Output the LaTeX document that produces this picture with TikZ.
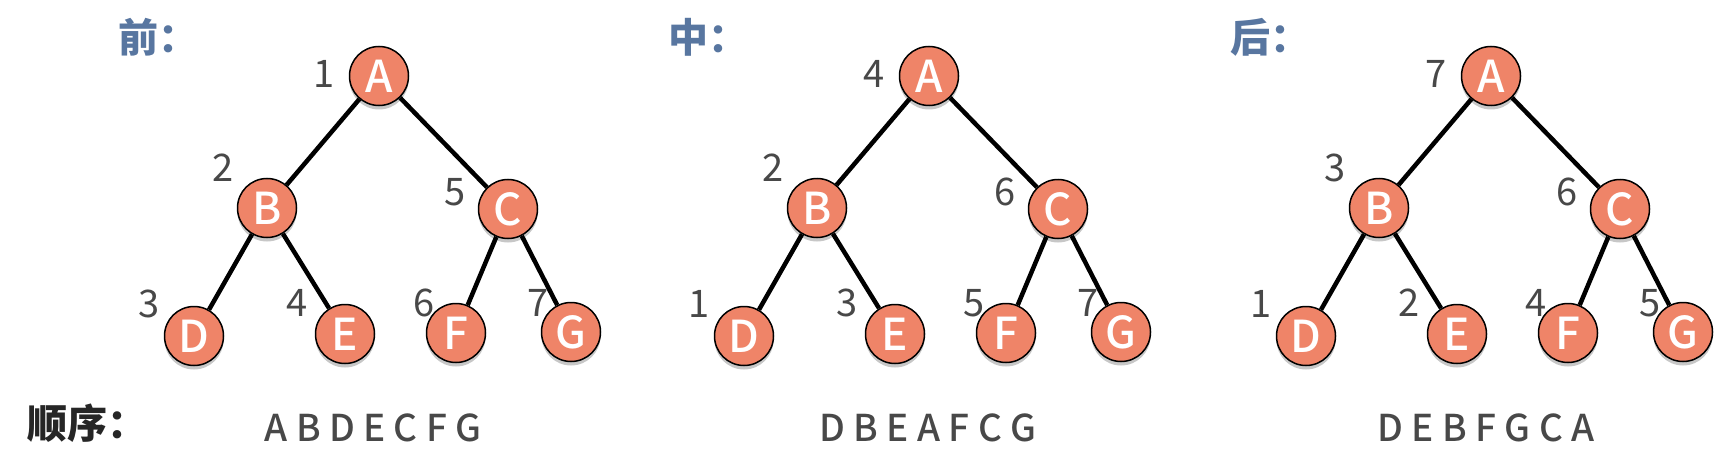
\documentclass[tikz,border=0pt]{standalone}
\usepackage{fontspec}
\setmainfont{Noto Sans CJK SC}
\newfontfamily\seqfont{Noto Sans CJK SC Medium}[WordSpace=1.35]
\newfontfamily\letterfont{Noto Sans CJK SC Medium}
\usetikzlibrary{shadows}
\definecolor{nodesalmon}{RGB}{239,132,104}
\definecolor{titleblue}{RGB}{88,118,160}
\definecolor{numgray}{RGB}{72,72,72}
\definecolor{labeldark}{RGB}{38,38,38}

\begin{document}
\begin{tikzpicture}[x=1pt, y=-1pt,
    treenode/.style={circle, draw=black, line width=1.5pt, fill=nodesalmon, minimum size=59pt, inner sep=0pt, text=white, font=\letterfont\fontsize{44}{44}\selectfont, drop shadow={shadow xshift=0pt, shadow yshift=-4pt, opacity=0.22, fill=black}},
    visitnum/.style={text=numgray, inner sep=0pt, font=\fontsize{38}{38}\selectfont},
    treetitle/.style={text=titleblue, inner sep=0pt, anchor=west, font=\bfseries\fontsize{40}{40}\selectfont},
    seqtext/.style={text=numgray, inner sep=0pt, font=\seqfont\fontsize{37}{37}\selectfont},
    branch/.style={line width=4.5pt, black}
]
\useasboundingbox (0,0) rectangle (1726,476);

% Row label
\node[treetitle, text=labeldark] (order) at (27,423) {顺序：};

% Preorder
\begin{scope}[xshift=379pt]
    \node[treetitle] (t1) at (-261,37) {前：};
    \node[treenode] (a1) at (0,76) {A};
    \node[treenode] (b1) at (-112,208) {B};
    \node[treenode] (c1) at (129,209) {C};
    \node[treenode] (d1) at (-185,336) {D};
    \node[treenode] (e1) at (-34,334) {E};
    \node[treenode] (f1) at (77,333) {F};
    \node[treenode] (g1) at (192,332) {G};
    \node[visitnum] (na1) at (-55,74) {1};
    \node[visitnum] (nb1) at (-156,168) {2};
    \node[visitnum] (nc1) at (76,192) {5};
    \node[visitnum] (nd1) at (-230,304) {3};
    \node[visitnum] (ne1) at (-82,303) {4};
    \node[visitnum] (nf1) at (45,303) {6};
    \node[visitnum] (ng1) at (159,303) {7};
    \node[seqtext] (s1) at (-6,428) {A B D E C F G};
    \draw[branch] (a1) -- (b1);
    \draw[branch] (a1) -- (c1);
    \draw[branch] (b1) -- (d1);
    \draw[branch] (b1) -- (e1);
    \draw[branch] (c1) -- (f1);
    \draw[branch] (c1) -- (g1);
\end{scope}

% Inorder
\begin{scope}[xshift=929pt]
    \node[treetitle] (t2) at (-261,37) {中：};
    \node[treenode] (a2) at (0,76) {A};
    \node[treenode] (b2) at (-112,208) {B};
    \node[treenode] (c2) at (129,209) {C};
    \node[treenode] (d2) at (-185,336) {D};
    \node[treenode] (e2) at (-34,334) {E};
    \node[treenode] (f2) at (77,333) {F};
    \node[treenode] (g2) at (192,332) {G};
    \node[visitnum] (na2) at (-55,74) {4};
    \node[visitnum] (nb2) at (-156,168) {2};
    \node[visitnum] (nc2) at (76,192) {6};
    \node[visitnum] (nd2) at (-230,304) {1};
    \node[visitnum] (ne2) at (-82,303) {3};
    \node[visitnum] (nf2) at (45,303) {5};
    \node[visitnum] (ng2) at (159,303) {7};
    \node[seqtext] (s2) at (-1,428) {D B E A F C G};
    \draw[branch] (a2) -- (b2);
    \draw[branch] (a2) -- (c2);
    \draw[branch] (b2) -- (d2);
    \draw[branch] (b2) -- (e2);
    \draw[branch] (c2) -- (f2);
    \draw[branch] (c2) -- (g2);
\end{scope}

% Postorder
\begin{scope}[xshift=1491pt]
    \node[treetitle] (t3) at (-261,37) {后：};
    \node[treenode] (a3) at (0,76) {A};
    \node[treenode] (b3) at (-112,208) {B};
    \node[treenode] (c3) at (129,209) {C};
    \node[treenode] (d3) at (-185,336) {D};
    \node[treenode] (e3) at (-34,334) {E};
    \node[treenode] (f3) at (77,333) {F};
    \node[treenode] (g3) at (192,332) {G};
    \node[visitnum] (na3) at (-55,74) {7};
    \node[visitnum] (nb3) at (-156,168) {3};
    \node[visitnum] (nc3) at (76,192) {6};
    \node[visitnum] (nd3) at (-230,304) {1};
    \node[visitnum] (ne3) at (-82,303) {2};
    \node[visitnum] (nf3) at (45,303) {4};
    \node[visitnum] (ng3) at (159,303) {5};
    \node[seqtext] (s3) at (-5,428) {D E B F G C A};
    \draw[branch] (a3) -- (b3);
    \draw[branch] (a3) -- (c3);
    \draw[branch] (b3) -- (d3);
    \draw[branch] (b3) -- (e3);
    \draw[branch] (c3) -- (f3);
    \draw[branch] (c3) -- (g3);
\end{scope}
\end{tikzpicture}
\end{document}
